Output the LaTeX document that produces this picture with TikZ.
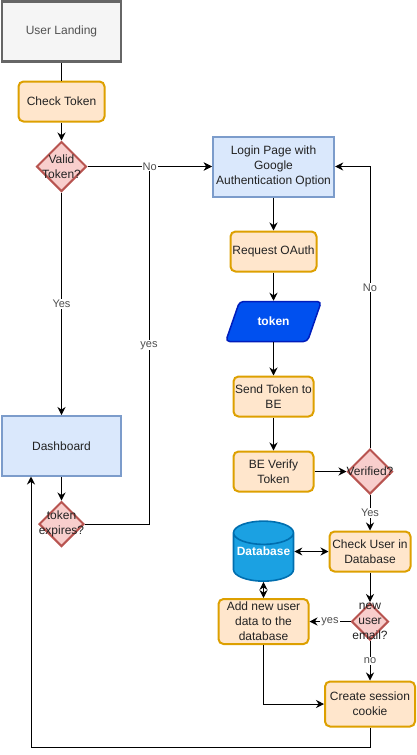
\documentclass[tikz,border=0pt]{standalone}
\usepackage{fontspec}
\setmainfont{Liberation Sans}
\usetikzlibrary{arrows.meta,shapes.geometric}

\definecolor{startfill}{HTML}{F5F5F5}
\definecolor{startline}{HTML}{666666}
\definecolor{stepfill}{HTML}{FFE6CC}
\definecolor{stepline}{HTML}{DDA000}
\definecolor{pagefill}{HTML}{DAE8FC}
\definecolor{pageline}{HTML}{7C9CCB}
\definecolor{askfill}{HTML}{F8CECC}
\definecolor{askline}{HTML}{B85450}
\definecolor{tokenfill}{HTML}{0050EF}
\definecolor{tokenline}{HTML}{001DBC}
\definecolor{dbfill}{HTML}{1BA1E2}
\definecolor{dbline}{HTML}{006EAF}
\definecolor{inktext}{HTML}{222222}

\tikzset{
    >={Stealth[length=8pt,width=8pt]},
    every node/.style={font=\fontsize{12}{15}\selectfont,text=inktext,align=center},
    startbox/.style={draw=startline,fill=startfill,line width=2.6pt,minimum width=119pt,minimum height=60pt,text=startline!80!black},
    pagebox/.style={draw=pageline,fill=pagefill,line width=2pt,minimum width=#1,minimum height=60pt},
    pagebox/.default=120pt,
    stepbox/.style={draw=stepline,fill=stepfill,line width=2pt,rounded corners=5pt,minimum width=#1,minimum height=40pt,inner sep=0pt},
    stepbox/.default=86pt,
    ask/.style={diamond,draw=askline,fill=askfill,line width=2pt,minimum size=#1,inner sep=0pt},
    conn/.style={->,black,line width=1pt},
    lbl/.style={fill=white,inner sep=1pt,font=\fontsize{11}{13}\selectfont,text=inktext!80},
    boldwhite/.style={text=white,font=\fontsize{12}{15}\selectfont\bfseries}
}

\begin{document}
\begin{tikzpicture}[x=1pt,y=-1pt]
    \useasboundingbox (0,0) rectangle (416,755);

    % left column
    \node[startbox] (landing) at (61.5,31.5) {User Landing};
    \node[stepbox] (check) at (61.5,101.5) {Check Token};
    \node[ask=50pt,label={[align=center]center:Valid\\Token?}] (valid) at (61.5,166.5) {};
    \node[pagebox=119pt] (dashboard) at (61.5,446) {Dashboard};
    \node[ask=45pt,label={[align=center]center:token\\expires?}] (expires) at (61.5,524) {};

    % middle column
    \node[pagebox] (login) at (273.5,166.5) {Login Page with\\Google\\Authentication Option};
    \node[stepbox] (oauth) at (273.5,251.5) {Request OAuth};
    \node[trapezium,trapezium left angle=63,trapezium right angle=117,trapezium stretches=true,
        draw=tokenline,fill=tokenfill,line width=1.5pt,rounded corners=4pt,minimum width=96pt,minimum height=40pt,
        boldwhite] (token) at (273.5,321.5) {token};
    \node[stepbox=80pt] (send) at (273.5,396.5) {Send Token to\\BE};
    \node[stepbox=80pt] (verify) at (273.5,471.5) {BE Verify\\Token};
    \node[cylinder,shape border rotate=90,aspect=0.4,draw=dbline,fill=dbfill,line width=1.6pt,
        minimum width=60pt,minimum height=60pt,
        label={[boldwhite,yshift=8.5pt]center:Database}] (database) at (263.5,560) {\phantom{Database}};
    \node[stepbox=90pt,minimum height=45pt] (adduser) at (263.5,621.5) {Add new user\\data to the\\database};

    % right column
    \node[ask=45pt,label={[align=center]center:Verified?}] (verified) at (370,471.5) {};
    \node[stepbox=81pt] (checkuser) at (370,551.5) {Check User in\\Database};
    \node[ask=37pt,label={[align=center]center:new\\user\\email?}] (newuser) at (370,621.5) {};
    \node[stepbox=90pt,minimum height=45pt] (session) at (370,704) {Create session\\cookie};

    \coordinate (bendyes) at (149,524);
    \coordinate (bendback) at (370,747);
    \coordinate (bendleft) at (31,747);
    \coordinate (dashin) at (31,476.5);

    % connectors
    \draw[conn,-] (landing) -- (check);
    \draw[conn] (check) -- (valid);
    \draw[conn] (expires.east) -- (bendyes) |- node[lbl,pos=0.25] {yes} (login.west);
    \draw[conn] (valid.east) -- node[lbl] {No} (login.west);
    \draw[conn] (valid.south) -- node[lbl] {Yes} (dashboard.north);
    \draw[conn] (dashboard) -- (expires);

    \draw[conn] (login) -- (oauth);
    \draw[conn] (oauth) -- (token);
    \draw[conn] (token) -- (send);
    \draw[conn] (send) -- (verify);
    \draw[conn] (verify) -- (verified);
    \draw[conn] (verified.north) |- node[lbl,pos=0.285] {No} (login.east);
    \draw[conn] (verified.south) -- node[lbl] {Yes} (checkuser.north);

    \draw[conn,<->] (database.east |- checkuser.west) -- (checkuser.west);
    \draw[conn,<->] (database.south) -- (adduser.north);
    \draw[conn] (checkuser) -- (newuser);
    \draw[conn] (newuser.west) -- node[lbl] {yes} (adduser.east);
    \draw[conn] (newuser.south) -- node[lbl] {no} (session.north);
    \draw[conn] (adduser.south) |- (session.west);
    \draw[conn] (session.south) -- (bendback) -- (bendleft) -- (dashin);
\end{tikzpicture}
\end{document}
